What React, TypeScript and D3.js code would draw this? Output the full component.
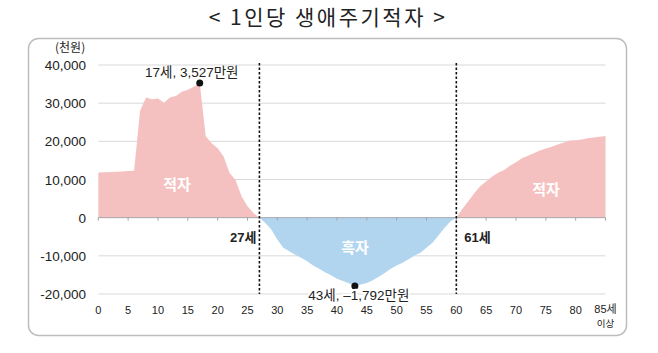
import React, { useRef, useEffect } from "react";
import * as d3 from "d3";

// 연령 (0 ~ 85세 이상)
const ages: number[] = Array.from({ length: 86 }, (_, i) => i);

// 1인당 생애주기적자 (천원), 연령별
const deficit: number[] = [
  11850, 11900, 11950, 12000, 12100, 12200, 12300, 28000, 31500, 31000,
  31200, 30100, 31500, 31900, 33000, 33500, 34300, 35270, 21300, 19500,
  18200, 16000, 11700, 9900, 5600, 3000, 1200, 0, -1400, -3100,
  -5700, -7900, -8800, -9700, -10500, -11400, -12500, -13400, -14300, -15100,
  -16000, -16600, -17200, -17920, -17500, -17100, -16400, -15500, -14500, -13400,
  -12500, -11800, -10900, -9900, -9200, -7900, -6600, -4700, -2700, -1000,
  0, 2300, 4300, 6400, 8200, 9500, 10800, 11800, 12500, 13600,
  14500, 15600, 16200, 16900, 17600, 18100, 18600, 19200, 19700, 20200,
  20300, 20500, 20800, 21000, 21200, 21400,
];

const yTicks: number[] = [40000, 30000, 20000, 10000, 0, -10000, -20000];
const xTicks: number[] = [0, 5, 10, 15, 20, 25, 30, 35, 40, 45, 50, 55, 60, 65, 70, 75, 80, 85];
const crossAges: number[] = [27, 60];
const peakAge = 17;
const troughAge = 43;

const FONT = "'Liberation Sans', Arial, 'Noto Sans CJK KR', sans-serif";
const KFONT = "'Noto Sans CJK KR', 'Liberation Sans', sans-serif";

// 천 단위 쉼표, 음수는 하이픈
const fmt = (d: number) => d3.format(",")(d).replace("−", "-");

export default function App() {
  const ref = useRef<SVGSVGElement>(null);

  useEffect(() => {
    const svg = d3.select(ref.current);
    svg.selectAll("*").remove();

    const x = d3.scaleLinear().domain([0, 85]).range([98.3, 605.5]);
    const y = d3.scaleLinear().domain([-20000, 40000]).range([294, 65]);

    // 제목
    svg
      .append("text")
      .attr("x", 328)
      .attr("y", 25)
      .attr("text-anchor", "middle")
      .attr("font-family", KFONT)
      .attr("font-size", 21)
      .attr("letter-spacing", 2.5)
      .attr("fill", "#222")
      .text("< 1인당 생애주기적자 >");

    // 테두리
    svg
      .append("rect")
      .attr("x", 28.5)
      .attr("y", 38.5)
      .attr("width", 598)
      .attr("height", 297)
      .attr("rx", 10)
      .attr("fill", "none")
      .attr("stroke", "#bdbdbd")
      .attr("stroke-width", 1.5);

    // 격자
    svg
      .append("g")
      .selectAll("line")
      .data(yTicks.filter((d) => d !== 0))
      .enter()
      .append("line")
      .attr("x1", x(0))
      .attr("x2", x(85))
      .attr("y1", (d) => y(d))
      .attr("y2", (d) => y(d))
      .attr("stroke", "#d9d9d9")
      .attr("stroke-width", 1);

    const pts = ages.map((a, i) => ({ a, v: deficit[i] }));

    const areaPos = d3
      .area<{ a: number; v: number }>()
      .x((d) => x(d.a))
      .y0(y(0))
      .y1((d) => y(Math.max(d.v, 0)));
    const areaNeg = d3
      .area<{ a: number; v: number }>()
      .x((d) => x(d.a))
      .y0(y(0))
      .y1((d) => y(Math.min(d.v, 0)));

    svg.append("path").attr("d", areaPos(pts)).attr("fill", "#f4c1c0");
    svg.append("path").attr("d", areaNeg(pts)).attr("fill", "#b2d5ef");

    // 0 축
    svg
      .append("line")
      .attr("x1", x(0))
      .attr("x2", x(85))
      .attr("y1", y(0))
      .attr("y2", y(0))
      .attr("stroke", "#a6a6a6");
    svg
      .append("g")
      .selectAll("line")
      .data(xTicks)
      .enter()
      .append("line")
      .attr("x1", (d) => x(d))
      .attr("x2", (d) => x(d))
      .attr("y1", y(0))
      .attr("y2", y(0) + 3)
      .attr("stroke", "#a6a6a6");

    // 점선
    svg
      .append("g")
      .selectAll("line")
      .data(crossAges)
      .enter()
      .append("line")
      .attr("x1", (d) => x(d))
      .attr("x2", (d) => x(d))
      .attr("y1", 63)
      .attr("y2", 294)
      .attr("stroke", "#111")
      .attr("stroke-width", 1.6)
      .attr("stroke-dasharray", "2.5,2");

    // y 축 라벨
    svg
      .append("g")
      .selectAll("text")
      .data(yTicks)
      .enter()
      .append("text")
      .attr("x", 86)
      .attr("y", (d) => y(d) + 5)
      .attr("text-anchor", "end")
      .attr("font-family", FONT)
      .attr("font-size", 13.5)
      .attr("fill", "#222")
      .text((d) => fmt(d));

    svg
      .append("text")
      .attr("x", 55)
      .attr("y", 52)
      .attr("font-family", KFONT)
      .attr("font-size", 12)
      .attr("fill", "#222")
      .text("(천원)");

    // x 축 라벨
    svg
      .append("g")
      .selectAll("text")
      .data(xTicks)
      .enter()
      .append("text")
      .attr("x", (d) => x(d))
      .attr("y", (d) => (d === 85 ? 312.5 : 314))
      .attr("text-anchor", "middle")
      .attr("font-family", FONT)
      .attr("font-size", 11)
      .attr("fill", "#222")
      .text((d) => (d === 85 ? "85세" : String(d)));
    svg
      .append("text")
      .attr("x", x(85))
      .attr("y", 326.5)
      .attr("text-anchor", "middle")
      .attr("font-family", KFONT)
      .attr("font-size", 9.5)
      .attr("fill", "#222")
      .text("이상");

    // 최고/최저 표시
    const peak = deficit[ages.indexOf(peakAge)];
    const trough = deficit[ages.indexOf(troughAge)];
    svg
      .append("circle")
      .attr("cx", x(peakAge))
      .attr("cy", y(peak))
      .attr("r", 3.5)
      .attr("fill", "#111");
    svg
      .append("text")
      .attr("x", x(peakAge) - 8)
      .attr("y", 77)
      .attr("text-anchor", "middle")
      .attr("font-family", FONT)
      .attr("font-size", 13.5)
      .attr("fill", "#222")
      .text(`${peakAge}세, ${fmt(Math.round(peak / 10))}만원`);
    svg
      .append("circle")
      .attr("cx", x(troughAge))
      .attr("cy", y(trough))
      .attr("r", 3.5)
      .attr("fill", "#111");
    svg
      .append("text")
      .attr("x", x(troughAge) + 4)
      .attr("y", 299.5)
      .attr("text-anchor", "middle")
      .attr("font-family", FONT)
      .attr("font-size", 13.5)
      .attr("fill", "#222")
      .attr("stroke", "#fff")
      .attr("stroke-width", 4)
      .attr("paint-order", "stroke")
      .text(`${troughAge}세, –${fmt(Math.round(-trough / 10))}만원`);

    // 연령 표시
    svg
      .append("text")
      .attr("x", x(crossAges[0]) - 3)
      .attr("y", 242)
      .attr("text-anchor", "end")
      .attr("font-family", FONT)
      .attr("font-size", 13)
      .attr("font-weight", "bold")
      .attr("fill", "#222")
      .text(`${crossAges[0]}세`);
    svg
      .append("text")
      .attr("x", x(crossAges[1]) + 8)
      .attr("y", 242)
      .attr("font-family", FONT)
      .attr("font-size", 13)
      .attr("font-weight", "bold")
      .attr("fill", "#222")
      .text(`${crossAges[1] + 1}세`);

    // 영역 라벨
    const areaLabels = [
      { t: "적자", x: 177, y: 190 },
      { t: "흑자", x: 355, y: 253 },
      { t: "적자", x: 546, y: 195 },
    ];
    svg
      .append("g")
      .selectAll("text")
      .data(areaLabels)
      .enter()
      .append("text")
      .attr("x", (d) => d.x)
      .attr("y", (d) => d.y)
      .attr("text-anchor", "middle")
      .attr("font-family", KFONT)
      .attr("font-size", 15)
      .attr("font-weight", "bold")
      .attr("fill", "#fff")
      .text((d) => d.t);
  }, []);

  return (
    <svg
      ref={ref}
      width={658}
      height={353}
      style={{ position: "absolute", left: 0, top: 0, background: "#fff" }}
    />
  );
}
